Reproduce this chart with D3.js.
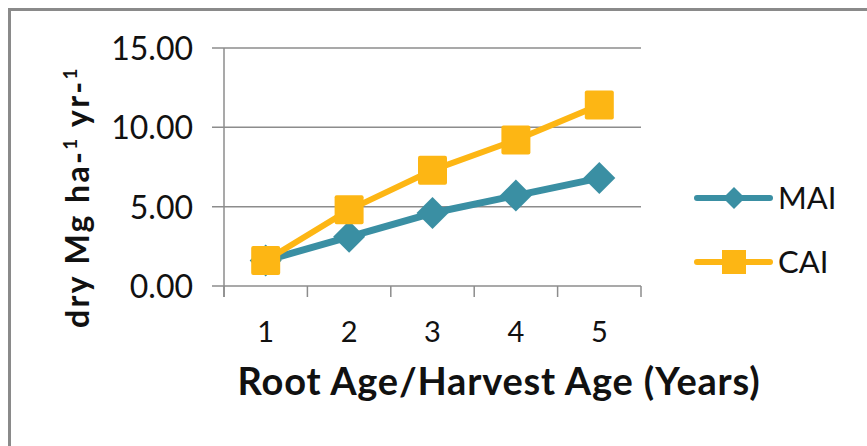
<!DOCTYPE html>
<html><head><meta charset="utf-8">
<script src="https://cdn.jsdelivr.net/npm/d3@7"></script>
<style>
html,body{margin:0;padding:0;background:#fff;}
svg{display:block;font-family:Lato,"Open Sans",sans-serif;}
</style></head>
<body>
<svg id="chart" width="867" height="446"></svg>
<script>
const categories = ["1","2","3","4","5"];
const maiValues = [1.6, 3.1, 4.6, 5.7, 6.8];
const caiValues = [1.6, 4.8, 7.3, 9.2, 11.4];
const yTicks = [0, 5, 10, 15];
const seriesNames = ["MAI", "CAI"];
const colors = {MAI: "#3a8fa3", CAI: "#fdb614"};

const svg = d3.select("#chart");
// outer frame
svg.append("rect").attr("x",9.5).attr("y",9.5).attr("width",900).attr("height",500)
  .attr("fill","#fff").attr("stroke","#8a8a8a").attr("stroke-width",3);

const pL = 224, pR = 641, pT = 48, pB = 286;
const x = d3.scaleBand().domain(categories).range([pL, pR]);
const y = d3.scaleLinear().domain([0, 15]).range([pB, pT]);
const gridColor = "#8c8c8c";

// gridlines + y ticks
svg.append("g").selectAll("line").data(yTicks).join("line")
  .attr("x1", pL - 12).attr("x2", pR).attr("y1", d => y(d)).attr("y2", d => y(d))
  .attr("stroke", gridColor).attr("stroke-width", 1.5);
// y axis line
svg.append("line").attr("x1", pL).attr("x2", pL).attr("y1", pT).attr("y2", pB + 11)
  .attr("stroke", gridColor).attr("stroke-width", 1.5);
// x ticks
const xTickPos = categories.map(c => x(c)).concat([pR]);
svg.append("g").selectAll("line").data(xTickPos).join("line")
  .attr("x1", d => d).attr("x2", d => d).attr("y1", pB).attr("y2", pB + 11)
  .attr("stroke", gridColor).attr("stroke-width", 1.5);

// y tick labels
svg.append("g").selectAll("text").data(yTicks).join("text")
  .attr("x", 193).attr("y", d => y(d)).attr("dy", "0.38em")
  .attr("text-anchor", "end").attr("font-size", 32).attr("fill", "#111")
  .text(d => d3.format(".2f")(d));
// x tick labels
svg.append("g").selectAll("text").data(categories).join("text")
  .attr("x", d => x(d) + x.bandwidth()/2).attr("y", 342)
  .attr("text-anchor", "middle").attr("font-size", 29).attr("fill", "#111")
  .text(d => d);

function fitWidth(sel, target){
  const node = sel.node();
  const w = node.getComputedTextLength();
  const n = node.textContent.length;
  if (n > 1) sel.attr("letter-spacing", ((target - w) / n).toFixed(2));
}
// axis titles
const xt = svg.append("text").attr("x", 499).attr("y", 395).attr("text-anchor","middle")
  .attr("font-size", 38).attr("font-weight", "bold").attr("fill","#111")
  .text("Root Age/Harvest Age (Years)");
fitWidth(xt, 523);
const yt = svg.append("text").attr("transform","translate(89,197) rotate(-90)")
  .attr("text-anchor","middle").attr("font-size", 32).attr("font-weight","bold").attr("fill","#111");
yt.append("tspan").text("dry Mg ha-");
yt.append("tspan").attr("dy", -12).attr("font-size", 19).text("1");
yt.append("tspan").attr("dy", 12).text(" yr-");
yt.append("tspan").attr("dy", -12).attr("font-size", 19).text("1");
fitWidth(yt, 262);

const line = d3.line().x((d,i) => x(categories[i]) + x.bandwidth()/2).y(d => y(d));
function diamond(g, cx, cy, r, c){
  g.append("path").attr("d", `M${cx},${cy-r}L${cx+r},${cy}L${cx},${cy+r}L${cx-r},${cy}Z`).attr("fill", c);
}
// MAI
svg.append("path").datum(maiValues).attr("d", line).attr("fill","none")
  .attr("stroke", colors.MAI).attr("stroke-width", 7).attr("stroke-linejoin","round");
const gm = svg.append("g");
maiValues.forEach((v,i) => diamond(gm, x(categories[i]) + x.bandwidth()/2, y(v), 16, colors.MAI));
// CAI
svg.append("path").datum(caiValues).attr("d", line).attr("fill","none")
  .attr("stroke", colors.CAI).attr("stroke-width", 6).attr("stroke-linejoin","round");
svg.append("g").selectAll("rect").data(caiValues).join("rect")
  .attr("x", (d,i) => x(categories[i]) + x.bandwidth()/2 - 14.5).attr("y", d => y(d) - 14.5)
  .attr("width", 29).attr("height", 29).attr("rx", 2).attr("fill", colors.CAI);

// legend
const legY = {MAI: 198, CAI: 262};
seriesNames.forEach(s => {
  const g = svg.append("g");
  g.append("line").attr("x1", 697).attr("x2", 770).attr("y1", legY[s]).attr("y2", legY[s])
    .attr("stroke", colors[s]).attr("stroke-width", 6).attr("stroke-linecap","round");
  if (s === "MAI") diamond(g, 734, legY[s], 11, colors[s]);
  else g.append("rect").attr("x", 722).attr("y", legY[s]-12).attr("width", 24).attr("height", 24).attr("fill", colors[s]);
  g.append("text").attr("x", 778).attr("y", legY[s]).attr("dy","0.36em")
    .attr("font-size", 31).attr("fill","#111").text(s);
});
</script>
</body></html>
